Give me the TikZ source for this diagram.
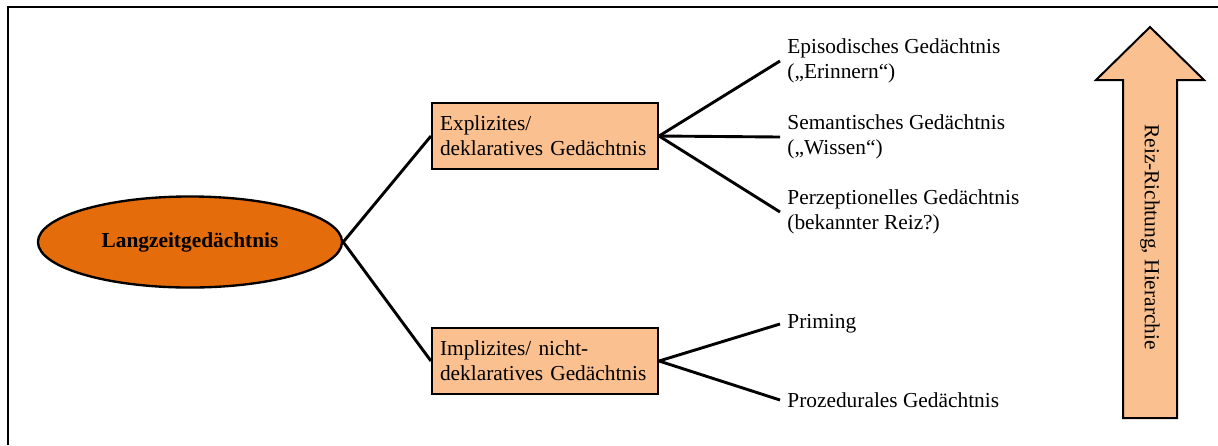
\documentclass[tikz,border=0pt]{standalone}
\usepackage{fontspec}
\usetikzlibrary{shapes.geometric}
\setmainfont{Liberation Serif}
\definecolor{darkorange}{HTML}{E46C0A}
\definecolor{lightorange}{HTML}{FAC090}
\begin{document}
\begin{tikzpicture}[x=0.5525pt,y=-0.5525pt,
  txt/.style={font=\fontsize{11.8}{13.8}\selectfont},
  link/.style={line width=1.6pt},
  rootnode/.style={ellipse, draw, line width=1.3pt, fill=darkorange, inner sep=0pt,
    minimum width=168pt, minimum height=50.3pt, font=\fontsize{11.8}{13.8}\selectfont\bfseries},
  catbox/.style={rectangle, draw, line width=1.1pt, fill=lightorange, inner xsep=4.4pt, inner ysep=0pt,
    minimum width=124.9pt, minimum height=37pt, text width=116pt, align=left, txt},
  leaf/.style={anchor=west, inner xsep=3.9pt, inner ysep=0pt, align=left, txt}]
\useasboundingbox (0,0) rectangle (1218,445);
% frame
\draw[line width=1.1pt] (8,445) -- (8,7) -- (1218,7);

% nodes
\node[rootnode] (ltm) at (190,242) {Langzeitgedächtnis};
\node[catbox] (expl) at (545,136) {Explizites/\\deklaratives Gedächtnis};
\node[catbox] (impl) at (545,361) {Implizites/ nicht-\\deklaratives Gedächtnis};

\node[leaf] (epi) at (780,61) {Episodisches Gedächtnis\\(„Erinnern“)};
\node[leaf] (sem) at (780,137) {Semantisches Gedächtnis\\(„Wissen“)};
\node[leaf] (per) at (780,212) {Perzeptionelles Gedächtnis\\(bekannter Reiz?)};
\node[leaf] (pri) at (780,324) {Priming};
\node[leaf] (pro) at (780,400) {Prozedurales Gedächtnis};

% connectors
\draw[link] (ltm.east) -- (expl.west);
\draw[link] (ltm.east) -- (impl.west);
\draw[link] (expl.east) -- (epi.west);
\draw[link] (expl.east) -- (sem.west);
\draw[link] (expl.east) -- (per.west);
\draw[link] (impl.east) -- (pri.west);
\draw[link] (impl.east) -- (pro.west);

% direction arrow
\draw[line width=1.1pt, fill=lightorange, line join=miter]
  (1123,418) -- (1123,80) -- (1096,80) -- (1150,27) -- (1204,80) -- (1177,80) -- (1177,418) -- cycle;
\node[txt, rotate=-90] (dir) at (1150,237) {Reiz-Richtung, Hierarchie};
\end{tikzpicture}
\end{document}
